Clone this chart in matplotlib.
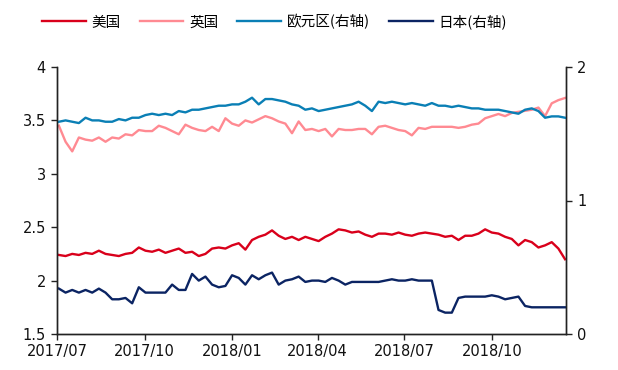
import matplotlib
matplotlib.use("Agg")
import matplotlib.pyplot as plt
import matplotlib.dates as mdates
import pandas as pd

# ---- data (weekly readings, Mondays) ----
dates = pd.date_range("2017-07-03", periods=77, freq="7D")

us = [2.24, 2.23, 2.25, 2.24, 2.26, 2.25, 2.28, 2.25, 2.24, 2.23,
      2.25, 2.26, 2.31, 2.28, 2.27, 2.29, 2.26, 2.28, 2.30, 2.26,
      2.27, 2.23, 2.25, 2.30, 2.31, 2.30, 2.33, 2.35, 2.29, 2.38,
      2.41, 2.43, 2.47, 2.42, 2.39, 2.41, 2.38, 2.41, 2.39, 2.37,
      2.41, 2.44, 2.48, 2.47, 2.45, 2.46, 2.43, 2.41, 2.44, 2.44,
      2.43, 2.45, 2.43, 2.42, 2.44, 2.45, 2.44, 2.43, 2.41, 2.42,
      2.38, 2.42, 2.42, 2.44, 2.48, 2.45, 2.44, 2.41, 2.39, 2.33,
      2.38, 2.36, 2.31, 2.33, 2.36, 2.30, 2.20]

uk = [3.45, 3.30, 3.21, 3.34, 3.32, 3.31, 3.34, 3.30, 3.34, 3.33,
      3.37, 3.36, 3.41, 3.40, 3.40, 3.45, 3.43, 3.40, 3.37, 3.46,
      3.43, 3.41, 3.40, 3.44, 3.40, 3.52, 3.47, 3.45, 3.50, 3.48,
      3.51, 3.54, 3.52, 3.49, 3.47, 3.38, 3.49, 3.41, 3.42, 3.40,
      3.42, 3.35, 3.42, 3.41, 3.41, 3.42, 3.42, 3.37, 3.44, 3.45,
      3.43, 3.41, 3.40, 3.36, 3.43, 3.42, 3.44, 3.44, 3.44, 3.44,
      3.43, 3.44, 3.46, 3.47, 3.52, 3.54, 3.56, 3.54, 3.57, 3.58,
      3.59, 3.60, 3.62, 3.54, 3.66, 3.69, 3.71]

euro = [1.59, 1.60, 1.59, 1.58, 1.62, 1.60, 1.60, 1.59, 1.59, 1.61,
        1.60, 1.62, 1.62, 1.64, 1.65, 1.64, 1.65, 1.64, 1.67, 1.66,
        1.68, 1.68, 1.69, 1.70, 1.71, 1.71, 1.72, 1.72, 1.74, 1.77,
        1.72, 1.76, 1.76, 1.75, 1.74, 1.72, 1.71, 1.68, 1.69, 1.67,
        1.68, 1.69, 1.70, 1.71, 1.72, 1.74, 1.71, 1.67, 1.74, 1.73,
        1.74, 1.73, 1.72, 1.73, 1.72, 1.71, 1.73, 1.71, 1.71, 1.70,
        1.71, 1.70, 1.69, 1.69, 1.68, 1.68, 1.68, 1.67, 1.66, 1.65,
        1.68, 1.69, 1.67, 1.62, 1.63, 1.63, 1.62]

japan = [0.34, 0.31, 0.33, 0.31, 0.33, 0.31, 0.34, 0.31, 0.26, 0.26,
         0.27, 0.23, 0.35, 0.31, 0.31, 0.31, 0.31, 0.37, 0.33, 0.33,
         0.45, 0.40, 0.43, 0.37, 0.35, 0.36, 0.44, 0.42, 0.37, 0.44,
         0.41, 0.44, 0.46, 0.37, 0.40, 0.41, 0.43, 0.39, 0.40, 0.40,
         0.39, 0.42, 0.40, 0.37, 0.39, 0.39, 0.39, 0.39, 0.39, 0.40,
         0.41, 0.40, 0.40, 0.41, 0.40, 0.40, 0.40, 0.18, 0.16, 0.16,
         0.27, 0.28, 0.28, 0.28, 0.28, 0.29, 0.28, 0.26, 0.27, 0.28,
         0.21, 0.20, 0.20, 0.20, 0.20, 0.20, 0.20]

labels = ["美国", "英国", "欧元区(右轴)", "日本(右轴)"]
colors = ["#D9001B", "#FF8A92", "#0A7FB5", "#0B2463"]

left_ticks = [1.5, 2, 2.5, 3, 3.5, 4]
left_ticklabels = ["1.5", "2", "2.5", "3", "3.5", "4"]
right_ticks = [0, 1, 2]
x_ticks = ["2017-07-01", "2017-10-01", "2018-01-01", "2018-04-01", "2018-07-01", "2018-10-01"]
x_ticklabels = ["2017/07", "2017/10", "2018/01", "2018/04", "2018/07", "2018/10"]

plt.rcParams["font.family"] = ["Noto Sans CJK SC", "DejaVu Sans"]

fig = plt.figure(figsize=(6.18, 3.70), dpi=100)
ax = fig.add_axes([57/618, 1-334/370, (566-57)/618, (334-67)/370])
ax2 = ax.twinx()

lw = 1.7
l1, = ax.plot(dates, us, color=colors[0], lw=lw, label=labels[0])
l2, = ax.plot(dates, uk, color=colors[1], lw=lw, label=labels[1])
l3, = ax2.plot(dates, euro, color=colors[2], lw=lw, label=labels[2])
l4, = ax2.plot(dates, japan, color=colors[3], lw=lw, label=labels[3])

ax.set_ylim(1.5, 4)
ax2.set_ylim(0, 2)
ax.set_xlim(pd.Timestamp("2017-07-01"), pd.Timestamp("2018-12-18"))

ax.set_yticks(left_ticks)
ax.set_yticklabels(left_ticklabels)
ax2.set_yticks(right_ticks)
ax.set_xticks([pd.Timestamp(d) for d in x_ticks])
ax.set_xticklabels(x_ticklabels)

for a in (ax, ax2):
    a.spines["top"].set_visible(False)
    for s in ("left", "right", "bottom"):
        a.spines[s].set_color("#222222")
        a.spines[s].set_linewidth(1.0)
    a.tick_params(direction="out", length=4, width=1, colors="#222222",
                  labelsize=10.5, labelcolor="#111111")
ax.tick_params(axis="x", pad=3)
ax.tick_params(axis="y", pad=4)
ax2.tick_params(axis="y", pad=4)
for t in ax.get_xticklabels() + ax.get_yticklabels() + ax2.get_yticklabels():
    t.set_fontfamily(["DejaVu Sans"])

fig.legend(handles=[l1, l2, l3, l4], labels=labels, loc="center left",
           bbox_to_anchor=(36/618, 1-22/370), ncol=4, frameon=False,
           fontsize=10.5, handlelength=3.0, handletextpad=0.4,
           columnspacing=1.3, borderaxespad=0)

fig.savefig("out.png", dpi=100)
